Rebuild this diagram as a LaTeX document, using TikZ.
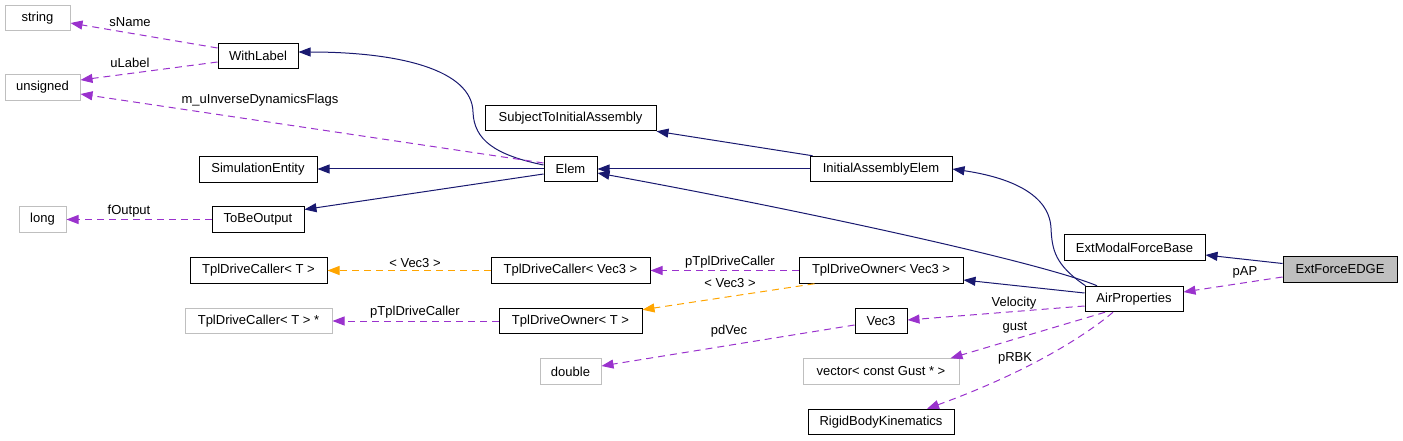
\documentclass[tikz,border=0pt]{standalone}
\usepackage{fontspec}
\setmainfont{Liberation Sans}
\usetikzlibrary{arrows.meta}
\definecolor{navy}{HTML}{191970}
\definecolor{orch}{HTML}{9A32CD}
\definecolor{orng}{HTML}{FFA500}
\definecolor{grayb}{HTML}{BFBFBF}
\definecolor{grayf}{HTML}{BFBFBF}
\begin{document}
\begin{tikzpicture}[x=1pt,y=-1pt,
  font=\fontsize{13}{15}\selectfont,
  box/.style={draw=black, line width=1pt, fill=white, minimum height=25.5pt, inner sep=0pt, anchor=center},
  ext/.style={box, draw=grayb},
  lbl/.style={inner sep=0pt, anchor=center},
  tip/.style={-{Triangle[length=12pt,width=9pt]}},
  inh/.style={draw=navy, line width=1pt, tip},
  use/.style={draw=orch, line width=1pt, dash pattern=on 7pt off 5pt, tip},
  tmpl/.style={draw=orng, line width=1pt, dash pattern=on 7pt off 5pt, tip}
]
\useasboundingbox (0,0) rectangle (1403,441);

% nodes
\node[ext, minimum width=65pt]  (string)   at (37.5,18)  {string};
\node[box, minimum width=80pt]  (withlabel) at (258,56)  {WithLabel};
\node[ext, minimum width=75pt]  (unsigned) at (42.5,87.5) {unsigned};
\node[box, minimum width=118pt] (siment)   at (258,169.5) {SimulationEntity};
\node[ext, minimum width=47pt]  (long)     at (42.5,219.5) {long};
\node[box, minimum width=92pt]  (tobe)     at (258,219.5) {ToBeOutput};
\node[box, minimum width=137pt] (tdct)     at (258.5,270.5) {TplDriveCaller< T >};
\node[ext, minimum width=147pt] (tdctp)    at (258.5,321) {TplDriveCaller< T > *};
\node[box, minimum width=171pt] (stia)     at (570.5,118) {SubjectToInitialAssembly};
\node[box, minimum width=53pt]  (elem)     at (570.5,169) {Elem};
\node[box, minimum width=159pt] (tdcv)     at (570.5,270.5) {TplDriveCaller< Vec3 >};
\node[box, minimum width=143pt] (tdot)     at (570.5,321) {TplDriveOwner< T >};
\node[ext, minimum width=61pt]  (double)   at (570.5,371.5) {double};
\node[box, minimum width=142pt] (iae)      at (881,169) {InitialAssemblyElem};
\node[box, minimum width=164pt] (tdov)     at (881,270.5) {TplDriveOwner< Vec3 >};
\node[box, minimum width=52pt]  (vec3)     at (881,321) {Vec3};
\node[ext, minimum width=156pt] (gustv)    at (881,371.5) {vector< const Gust * >};
\node[box, minimum width=146pt] (rbk)      at (881,422) {RigidBodyKinematics};
\node[box, minimum width=141pt] (emfb)     at (1134.5,247.5) {ExtModalForceBase};
\node[box, minimum width=98pt]  (air)      at (1134,299) {AirProperties};
\node[box, minimum width=114pt, fill=grayf] (edge) at (1340,269.5) {ExtForceEDGE};

% inheritance (solid navy)
\draw[inh] ([yshift=4pt]elem.west) .. controls (495,155) and (474,140) .. (473,112)
  .. controls (472,70) and (400,52) .. ([yshift=4pt]withlabel.east);
\draw[inh] (elem.west) -- (elem.west -| siment.east);
\draw[inh] ([yshift=-5pt]elem.west) -- ([yshift=10pt]tobe.east);
\draw[inh] ([xshift=3pt]iae.north west) -- (stia.south east);
\draw[inh] (iae.west) -- (elem.east);
\draw[inh] ([xshift=-37pt]air.north) .. controls (1040,262) and (800,210) .. ([yshift=-4pt]elem.east);
\draw[inh] ([xshift=1pt]air.north west) .. controls (1055,265) and (1052,250) .. (1051,228)
  .. controls (1049,190) and (1000,176) .. (iae.east);
\draw[inh] ([yshift=6pt]air.west) -- ([yshift=-9.5pt]tdov.east);
\draw[inh] ([yshift=6pt]edge.west) -- ([yshift=-7.5pt]emfb.east);

% usage (dashed purple)
\draw[use] ([yshift=8pt]withlabel.west) -- ([yshift=-5pt]string.east);
\draw[use] ([yshift=-6pt]withlabel.west) -- ([yshift=7.5pt]unsigned.east);
\draw[use] ([yshift=6pt]elem.west) -- ([yshift=-6.5pt]unsigned.east);
\draw[use] (tobe.west) -- (long.east);
\draw[use] (tdov.west) -- (tdcv.east);
\draw[use] (tdot.west) -- (tdctp.east);
\draw[use] ([yshift=-4pt]vec3.west) -- ([yshift=5.5pt]double.east);
\draw[use] ([yshift=-7pt]air.west) -- ([yshift=1pt]vec3.east);
\draw[use] ([xshift=-29pt]air.south) -- ([xshift=-9pt]gustv.north east);
\draw[use] ([xshift=-21pt]air.south) .. controls (1080,340) and (1020,375) .. ([xshift=46pt]rbk.north);
\draw[use] ([yshift=-7.5pt]edge.west) -- ([yshift=7pt]air.east);

% template instances (dashed orange)
\draw[tmpl] (tdcv.west) -- (tdct.east);
\draw[tmpl] ([xshift=16pt]tdov.south west) -- ([yshift=-2pt]tdot.north east);

% labels
\node[lbl] (lsname) at (130,22) {sName};
\node[lbl] (lulabel) at (130,63) {uLabel};
\node[lbl] (linv) at (260,100) {m\_uInverseDynamicsFlags};
\node[lbl] (lfout) at (129,211) {fOutput};
\node[lbl] (lvec3a) at (415,263) {< Vec3 >};
\node[lbl] (lptdc1) at (415,312) {pTplDriveCaller};
\node[lbl] (lptdc2) at (730,262) {pTplDriveCaller};
\node[lbl] (lvec3b) at (730,283) {< Vec3 >};
\node[lbl] (lpdvec) at (729,331) {pdVec};
\node[lbl] (lvel) at (1014,303) {Velocity};
\node[lbl] (lgust) at (1015,328) {gust};
\node[lbl] (lprbk) at (1015,358) {pRBK};
\node[lbl] (lpap) at (1245,272) {pAP};
\end{tikzpicture}
\end{document}
